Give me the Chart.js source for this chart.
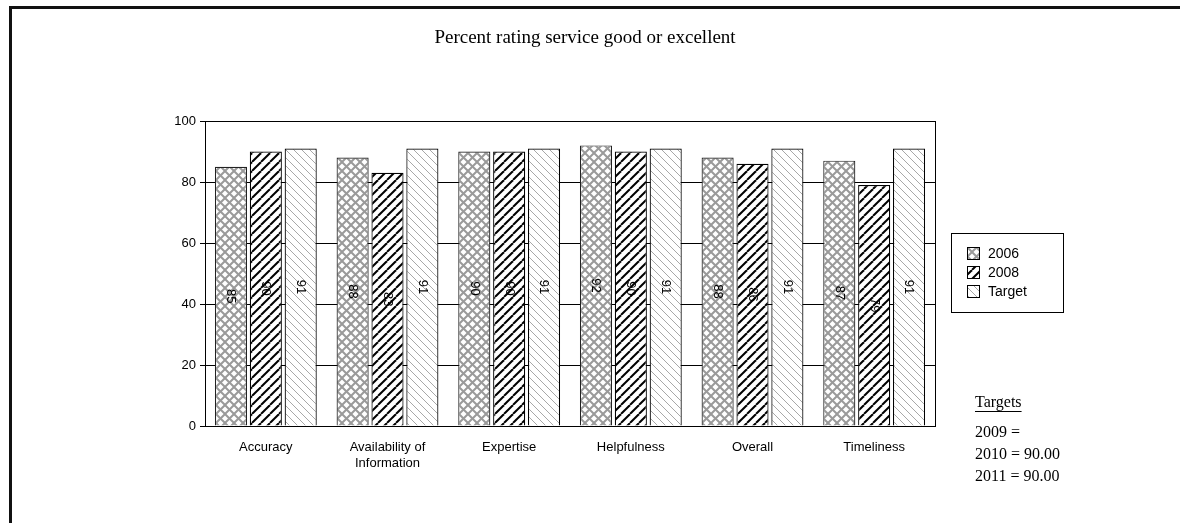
<!DOCTYPE html>
<html>
<head>
<meta charset="utf-8">
<script src="https://cdn.jsdelivr.net/npm/chart.js@4"></script>
<style>
  html, body { margin: 0; padding: 0; background: #fff; }
  #wrap { width: 1180px; height: 523px; position: relative; }
</style>
</head>
<body>
<div id="wrap"><canvas id="c" width="1180" height="523"></canvas></div>
<script>
var categories = ["Accuracy", ["Availability of", "Information"], "Expertise", "Helpfulness", "Overall", "Timeliness"];
var seriesNames = ["2006", "2008", "Target"];
var values2006 = [85, 88, 90, 92, 88, 87];
var values2008 = [90, 83, 90, 90, 86, 79];
var valuesTarget = [91, 91, 91, 91, 91, 91];
var yTicks = [0, 20, 40, 60, 80, 100];
var targetNotes = ["2009 =", "2010 = 90.00", "2011 = 90.00"];

function makePattern(kind) {
    var s = kind == "back" ? 8 : 9;
    var cv = document.createElement("canvas");
    cv.width = s; cv.height = s;
    var g = cv.getContext("2d");
    g.fillStyle = "#fff";
    g.fillRect(0, 0, s, s);
    if (kind == "cross") {
        g.strokeStyle = "#9a9a9a";
        g.lineWidth = 2;
        for (var k = -1; k <= 1; k++) {
            g.beginPath(); g.moveTo(k * s, 0); g.lineTo(k * s + s, s); g.stroke();
            g.beginPath(); g.moveTo(k * s + s, 0); g.lineTo(k * s, s); g.stroke();
        }
    } else if (kind == "fwd") {
        g.strokeStyle = "#000";
        g.lineWidth = 2;
        for (var k = -1; k <= 1; k++) {
            g.beginPath(); g.moveTo(k * s, s); g.lineTo(k * s + s, 0); g.stroke();
        }
    } else {
        g.strokeStyle = "#a8a8a8";
        g.lineWidth = 1;
        for (var k = -1; k <= 1; k++) {
            g.beginPath(); g.moveTo(k * s, 0); g.lineTo(k * s + s, s); g.stroke();
        }
    }
    return document.getElementById("c").getContext("2d").createPattern(cv, "repeat");
}

var patterns = [makePattern("cross"), makePattern("fwd"), makePattern("back")];

var extras = {
    id: "extras",
    beforeDraw: function (chart) {
        var ctx = chart.ctx;
        ctx.save();
        ctx.fillStyle = "#fff";
        ctx.fillRect(0, 0, chart.width, chart.height);
        // outer frame (runs off the right and bottom)
        ctx.strokeStyle = "#111";
        ctx.lineWidth = 3;
        ctx.beginPath();
        ctx.moveTo(10.5, chart.height + 5);
        ctx.lineTo(10.5, 7.5);
        ctx.lineTo(chart.width + 5, 7.5);
        ctx.stroke();
        // title
        ctx.fillStyle = "#000";
        ctx.font = "19px 'Liberation Serif'";
        ctx.textAlign = "center";
        ctx.textBaseline = "middle";
        ctx.fillText("Percent rating service good or excellent", 585, 38);
        ctx.restore();
    },
    afterDatasetsDraw: function (chart) {
        var ctx = chart.ctx;
        var a = chart.chartArea;
        ctx.save();
        // plot border
        ctx.strokeStyle = "#000";
        ctx.lineWidth = 1;
        ctx.strokeRect(Math.round(a.left) + 0.5, Math.round(a.top) + 0.5, Math.round(a.right - a.left), Math.round(a.bottom - a.top));
        // value labels, rotated inside bars
        ctx.fillStyle = "#000";
        ctx.font = "13px 'Liberation Sans'";
        ctx.textAlign = "center";
        ctx.textBaseline = "middle";
        chart.data.datasets.forEach(function (ds, i) {
            chart.getDatasetMeta(i).data.forEach(function (bar, j) {
                var cy = (bar.y + bar.base) / 2;
                ctx.save();
                ctx.translate(bar.x, cy);
                ctx.rotate(Math.PI / 2);
                ctx.fillText(String(ds.data[j]), 0, 0);
                ctx.restore();
            });
        });
        // legend
        var lx = 951, ly = 233;
        ctx.strokeStyle = "#000";
        ctx.strokeRect(lx + 0.5, ly + 0.5, 112, 79);
        ctx.textAlign = "left";
        ctx.font = "14px 'Liberation Sans'";
        for (var i = 0; i < seriesNames.length; i++) {
            var yy = ly + 20 + i * 19;
            ctx.fillStyle = patterns[i];
            ctx.fillRect(lx + 16, yy - 6, 12, 12);
            ctx.strokeStyle = "#000";
            ctx.strokeRect(lx + 16.5, yy - 5.5, 12, 12);
            ctx.fillStyle = "#000";
            ctx.fillText(seriesNames[i], lx + 37, yy + 1);
        }
        // targets note
        ctx.font = "16px 'Liberation Serif'";
        ctx.fillText("Targets", 975, 403);
        var w = ctx.measureText("Targets").width;
        ctx.fillRect(975, 411, w, 1);
        for (var i = 0; i < targetNotes.length; i++) {
            ctx.fillText(targetNotes[i], 975, 433 + i * 22);
        }
        ctx.restore();
    }
};

new Chart(document.getElementById("c"), {
    type: "bar",
    data: {
        labels: categories,
        datasets: [
            { label: seriesNames[0], data: values2006, backgroundColor: patterns[0], borderColor: "#222", borderWidth: 1.2 },
            { label: seriesNames[1], data: values2008, backgroundColor: patterns[1], borderColor: "#000", borderWidth: 1.2 },
            { label: seriesNames[2], data: valuesTarget, backgroundColor: patterns[2], borderColor: "#000", borderWidth: 1.2 }
        ]
    },
    options: {
        responsive: false,
        animation: false,
        layout: { padding: { left: 155, right: 245, top: 121, bottom: 52 } },
        plugins: { legend: { display: false }, title: { display: false }, tooltip: { enabled: false } },
        datasets: { bar: { categoryPercentage: 0.86, barPercentage: 0.92 } },
        scales: {
            x: {
                grid: { display: false },
                border: { display: false },
                ticks: { color: "#000", font: { family: "'Liberation Sans'", size: 13 }, padding: 6, maxRotation: 0, autoSkip: false },
                afterFit: function (s) { s.height = 45; }
            },
            y: {
                min: 0, max: 100,
                afterBuildTicks: function (s) { s.ticks = yTicks.map(function (v) { return { value: v }; }); },
                grid: { color: "#000", lineWidth: 1, tickLength: 5, drawTicks: true },
                border: { display: false },
                ticks: { color: "#000", font: { family: "'Liberation Sans'", size: 13 }, padding: 4 },
                afterFit: function (s) { s.width = 50; }
            }
        }
    },
    plugins: [extras]
});
</script>
</body>
</html>
